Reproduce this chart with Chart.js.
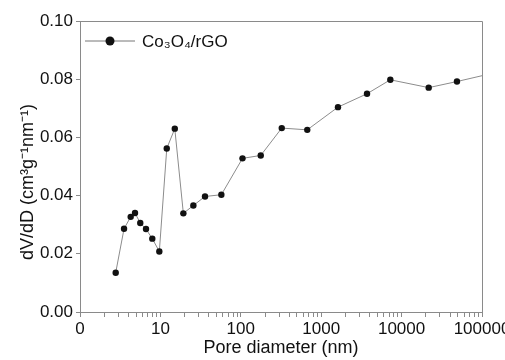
<!DOCTYPE html>
<html lang="en">
<head>
  <meta charset="UTF-8">
  <title>Pore size distribution</title>
  <script src="https://cdn.jsdelivr.net/npm/chart.js"></script>
  <style>
    html, body {
      margin: 0;
      padding: 0;
      background: #fff;
    }
    #wrap {
      width: 505px;
      height: 360px;
    }
  </style>
</head>
<body>
  <div id="wrap"><canvas id="poreChart"></canvas></div>

  <script>
    const seriesName = "Co\u2083O\u2084/rGO";
    const yTitle = 'dV/dD (cm\u00b3g\u207b\u00b9nm\u207b\u00b9)';
    const poreDiameter = [2.78, 3.53, 4.27, 4.83, 5.62, 6.62, 7.93, 9.7, 12.0, 15.1, 19.3, 25.7, 35.9, 57.3,
                          105, 177, 323, 671, 1617, 3714, 7241, 21730, 48830, 100000];
    const dVdD = [0.0135, 0.0286, 0.0327, 0.0340, 0.0306, 0.0285, 0.0252, 0.0208, 0.0562, 0.0630, 0.0339, 0.0366, 0.0397, 0.0403,
                  0.0528, 0.0538, 0.0632, 0.0626, 0.0704, 0.0750, 0.0798, 0.0771, 0.0792, 0.0812];
    const xMajorTicks = [1, 10, 100, 1000, 10000, 100000];
    const yTicks = [0, 0.02, 0.04, 0.06, 0.08, 0.10];

    const axisGray = '#8a8a8a';
    const fam = "'Liberation Sans', Arial, sans-serif";
    const font = { family: fam, size: 17 };

    // frame on top/right, the inside legend and the y title
    const framePlugin = {
      id: 'frame',
      afterDraw(chart) {
        const { ctx, chartArea: a } = chart;
        ctx.save();
        ctx.strokeStyle = axisGray;
        ctx.lineWidth = 1;
        ctx.beginPath();
        ctx.moveTo(a.left, a.top + 0.5);
        ctx.lineTo(a.right + 0.5, a.top + 0.5);
        ctx.lineTo(a.right + 0.5, a.bottom);
        ctx.stroke();

        const ly = a.top + 20;
        ctx.strokeStyle = '#777';
        ctx.beginPath();
        ctx.moveTo(a.left + 5, ly);
        ctx.lineTo(a.left + 55, ly);
        ctx.stroke();
        ctx.fillStyle = '#111';
        ctx.beginPath();
        ctx.arc(a.left + 30, ly, 4.5, 0, Math.PI * 2);
        ctx.fill();
        ctx.font = '17px ' + fam;
        ctx.textBaseline = 'middle';
        ctx.fillText(seriesName, a.left + 62, ly + 1);

        // y title, a bit below the middle like the original
        ctx.translate(28, 182);
        ctx.rotate(-Math.PI / 2);
        ctx.font = '18px ' + fam;
        ctx.textAlign = 'center';
        ctx.fillText(yTitle, 0, 0);
        ctx.restore();
      }
    };

    const ctx = document.getElementById('poreChart').getContext('2d');
    new Chart(ctx, {
      type: 'line',
      data: {
        datasets: [{
          label: seriesName,
          data: poreDiameter.map((d, i) => ({ x: d, y: dVdD[i] })),
          borderColor: '#8c8c8c',
          borderWidth: 1,
          backgroundColor: '#111',
          pointBackgroundColor: '#111',
          pointBorderColor: '#111',
          pointBorderWidth: 0,
          pointRadius: poreDiameter.map((d) => d >= 100000 ? 0 : 3.2),
          tension: 0
        }]
      },
      options: {
        responsive: true,
        maintainAspectRatio: false,
        animation: false,
        layout: { padding: { top: 21, right: 23, left: 0, bottom: 0 } },
        plugins: {
          legend: { display: false },
          tooltip: { enabled: false }
        },
        scales: {
          x: {
            type: 'logarithmic',
            min: 1,
            max: 100000,
            afterBuildTicks(scale) {
              const ticks = [];
              xMajorTicks.forEach((p, k) => {
                ticks.push({ value: p, major: true });
                if (k < xMajorTicks.length - 1) {
                  for (let m = 2; m <= 9; m++) ticks.push({ value: p * m });
                }
              });
              scale.ticks = ticks;
            },
            afterFit(scale) {
              scale.height = 48;
              scale.paddingLeft = 0;
              scale.paddingRight = 0;
            },
            ticks: {
              autoSkip: false,
              maxRotation: 0,
              color: '#111',
              font: font,
              padding: 2,
              callback(v) {
                if (v === 1) return '0';
                return xMajorTicks.includes(v) ? String(v) : '';
              }
            },
            grid: {
              drawOnChartArea: false,
              drawTicks: true,
              tickLength: 5,
              color: axisGray
            },
            border: { color: axisGray, width: 1 },
            title: {
              display: true,
              text: 'Pore diameter (nm)',
              color: '#111',
              font: { family: fam, size: 18 },
              padding: { top: 0, bottom: 1 }
            }
          },
          y: {
            min: 0,
            max: 0.10,
            afterBuildTicks(scale) {
              scale.ticks = yTicks.map((v) => ({ value: v }));
            },
            afterFit(scale) {
              scale.width = 80;
            },
            ticks: {
              color: '#111',
              font: font,
              padding: 3,
              callback: (v) => v.toFixed(2)
            },
            grid: {
              drawOnChartArea: false,
              drawTicks: true,
              tickLength: 4,
              color: axisGray
            },
            border: { color: axisGray, width: 1 }
          }
        }
      },
      plugins: [framePlugin]
    });
  </script>
</body>
</html>
